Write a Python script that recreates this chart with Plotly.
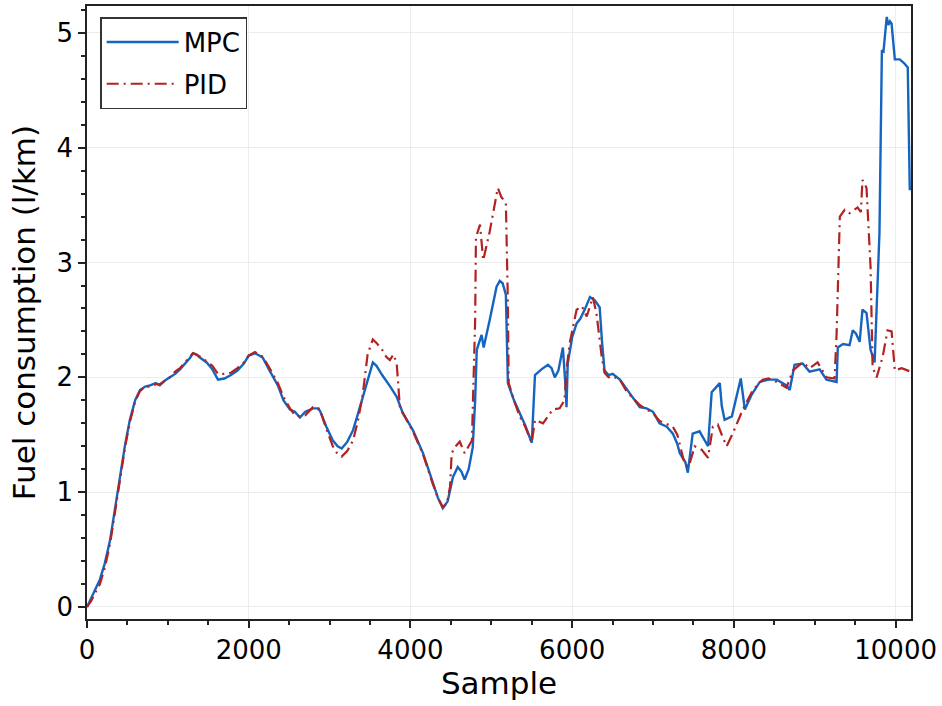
import plotly.graph_objects as go

# MPC trace (sample, l/km)
mpc_x = [0, 50, 100, 160, 220, 285, 345, 410, 470, 530, 595, 655, 720, 780, 850, 900, 960,
         1025, 1090, 1150, 1210, 1275, 1310, 1350, 1400, 1480, 1550, 1620, 1700, 1780, 1860,
         1940, 2000, 2077, 2130, 2175, 2250, 2360, 2430, 2510, 2570, 2633, 2700, 2794, 2850,
         2880, 2960, 3040, 3100, 3150, 3220, 3290, 3350, 3410, 3470, 3535, 3580, 3650, 3750,
         3830, 3905, 4030, 4155, 4277, 4340, 4400, 4460, 4525, 4585, 4630, 4670, 4720, 4770,
         4800, 4820, 4880, 4905, 4980, 5065, 5105, 5140, 5180, 5205, 5280, 5350, 5420, 5500,
         5540, 5620, 5700, 5745, 5785, 5830, 5885, 5915, 5930, 5945, 6000, 6055, 6100, 6155,
         6220, 6280, 6340, 6370, 6400, 6450, 6500, 6590, 6670, 6750, 6835, 6920, 7000, 7080,
         7170, 7245, 7300, 7330, 7400, 7430, 7490, 7575, 7640, 7680, 7725, 7825, 7850, 7885,
         7975, 8035, 8085, 8135, 8220, 8320, 8430, 8530, 8650, 8690, 8750, 8850, 8935, 9060,
         9145, 9270, 9285, 9350, 9430, 9470, 9510, 9555, 9590, 9640, 9690, 9740, 9800, 9830,
         9850, 9890, 9910, 9930, 9950, 9990, 10050, 10100, 10150, 10175]
mpc_y = [0, 0.07, 0.15, 0.24, 0.38, 0.58, 0.85, 1.15, 1.41, 1.63, 1.80, 1.89, 1.92, 1.93, 1.95,
         1.93, 1.97, 2.0, 2.03, 2.07, 2.12, 2.17, 2.21, 2.20, 2.17, 2.13, 2.07, 1.98, 1.99, 2.02,
         2.06, 2.12, 2.19, 2.21, 2.19, 2.17, 2.07, 1.93, 1.80, 1.72, 1.70, 1.65, 1.70, 1.73, 1.73,
         1.71, 1.57, 1.45, 1.40, 1.38, 1.44, 1.54, 1.68, 1.83, 1.98, 2.13, 2.10, 2.02, 1.92, 1.83,
         1.69, 1.54, 1.34, 1.08, 0.95, 0.86, 0.92, 1.13, 1.22, 1.18, 1.11, 1.20, 1.39, 1.80, 2.24,
         2.37, 2.26, 2.50, 2.79, 2.84, 2.82, 2.72, 1.95, 1.80, 1.69, 1.58, 1.43, 2.02, 2.07, 2.11,
         2.08, 2.00, 2.06, 2.26, 1.95, 1.74, 2.12, 2.35, 2.47, 2.51, 2.59, 2.70, 2.67, 2.61, 2.30,
         2.06, 2.02, 2.03, 1.98, 1.90, 1.83, 1.74, 1.73, 1.70, 1.60, 1.57, 1.51, 1.42, 1.34, 1.26,
         1.17, 1.51, 1.53, 1.45, 1.40, 1.87, 1.95, 1.75, 1.63, 1.66, 1.83, 1.99, 1.72, 1.85, 1.96,
         1.98, 1.98, 1.93, 1.89, 2.11, 2.12, 2.05, 2.07, 1.98, 1.96, 2.26, 2.29, 2.28, 2.41, 2.38,
         2.31, 2.59, 2.56, 2.24, 2.13, 3.26, 4.85, 4.84, 5.14, 5.07, 5.10, 5.08, 4.77, 4.77, 4.74,
         4.70, 3.63]

# PID trace
pid_x = [0, 50, 100, 160, 220, 285, 345, 410, 470, 530, 595, 655, 720, 780, 850, 900, 960,
         1025, 1090, 1150, 1210, 1275, 1310, 1350, 1400, 1480, 1550, 1620, 1700, 1780, 1860,
         1940, 2000, 2077, 2130, 2175, 2250, 2360, 2430, 2510, 2570, 2633, 2700, 2794, 2850,
         2880, 2960, 3040, 3100, 3150, 3220, 3290, 3350, 3410, 3470, 3535, 3580, 3650, 3700,
         3745, 3790, 3830, 3870, 3905, 4030, 4155, 4277, 4340, 4400, 4450, 4490, 4510, 4560,
         4610, 4670, 4720, 4760, 4800, 4810, 4860, 4900, 4980, 5040, 5080, 5125, 5180, 5205,
         5215, 5280, 5350, 5420, 5500, 5540, 5640, 5700, 5760, 5845, 5905, 5935, 5970, 6055,
         6120, 6180, 6255, 6300, 6365, 6400, 6450, 6500, 6590, 6670, 6750, 6835, 6920, 7000,
         7080, 7170, 7245, 7300, 7390, 7440, 7515, 7600, 7680, 7740, 7800, 7850, 7910, 7985,
         8110, 8235, 8355, 8430, 8530, 8650, 8730, 8850, 8935, 9035, 9145, 9245, 9270, 9310,
         9370, 9430, 9530, 9570, 9590, 9640, 9690, 9715, 9765, 9840, 9900, 9950, 9990, 10075,
         10150, 10185]
pid_y = [0, 0.05, 0.12, 0.20, 0.34, 0.55, 0.82, 1.12, 1.39, 1.61, 1.79, 1.88, 1.92, 1.92, 1.94,
         1.94, 1.97, 2.0, 2.05, 2.08, 2.13, 2.18, 2.21, 2.20, 2.18, 2.14, 2.10, 2.03, 2.03, 2.04,
         2.08, 2.13, 2.19, 2.22, 2.20, 2.18, 2.09, 1.95, 1.83, 1.73, 1.67, 1.66, 1.67, 1.74, 1.74,
         1.72, 1.55, 1.40, 1.33, 1.31, 1.36, 1.45, 1.62, 1.85, 2.20, 2.33, 2.30, 2.24, 2.18, 2.15,
         2.20, 2.12, 1.73, 1.69, 1.53, 1.33, 1.07, 0.95, 0.87, 0.90, 1.05, 1.34, 1.40, 1.44, 1.34,
         1.40, 1.45, 2.50, 3.22, 3.33, 3.02, 3.27, 3.50, 3.65, 3.57, 3.52, 2.65, 1.95, 1.80, 1.66,
         1.57, 1.43, 1.63, 1.60, 1.66, 1.72, 1.73, 1.80, 2.10, 2.30, 2.59, 2.62, 2.53, 2.70, 2.56,
         2.18, 2.04, 2.00, 2.01, 1.98, 1.88, 1.82, 1.76, 1.72, 1.69, 1.62, 1.59, 1.57, 1.50, 1.25,
         1.22, 1.40, 1.37, 1.30, 1.57, 1.59, 1.50, 1.40, 1.51, 1.72, 1.89, 1.98, 1.99, 1.96, 1.91,
         2.06, 2.13, 2.08, 2.13, 2.00, 1.99, 2.38, 3.40, 3.46, 3.43, 3.48, 3.44, 3.72, 3.65, 2.96,
         2.09, 2.00, 2.18, 2.41, 2.40, 2.06, 2.08, 2.06, 2.05]

font = "DejaVu Sans"

fig = go.Figure()
fig.add_trace(go.Scatter(x=mpc_x, y=mpc_y, mode="lines", name="MPC", legendgroup="a",
                         line=dict(color="#1565C0", width=2.4)))
fig.add_trace(go.Scatter(x=pid_x, y=pid_y, mode="lines", name="PID", legendgroup="b",
                         line=dict(color="#B22222", width=2.2, dash="12px,5px,2px,5px")))

axis_common = dict(
    showline=True, linecolor="#222", linewidth=1.5, mirror=True,
    ticks="outside", ticklen=7, tickwidth=1.5, tickcolor="#222",
    showgrid=True, gridcolor="#ececec", gridwidth=1, zeroline=False,
    tickfont=dict(family=font, size=26, color="black"),
    automargin=False, tickformat="d",
)
fig.update_xaxes(**axis_common, range=[0, 10190], dtick=2000,
                 minor=dict(ticks="outside", ticklen=4, dtick=500, tickcolor="#222", showgrid=False),
                 title=dict(text="Sample", font=dict(family=font, size=31, color="black"), standoff=6))
fig.update_yaxes(**axis_common, range=[-0.105, 5.235], dtick=1,
                 minor=dict(ticks="outside", ticklen=4, dtick=0.2, tickcolor="#222", showgrid=False),
                 title=dict(text="Fuel consumption (l/km)", font=dict(family=font, size=31, color="black"),
                            standoff=12))

fig.update_layout(
    width=942, height=706,
    margin=dict(l=87, r=31, t=6, b=87),
    paper_bgcolor="white", plot_bgcolor="white",
    showlegend=True,
    legend=dict(x=0.016, y=0.982, xanchor="left", yanchor="top",
                bgcolor="white", bordercolor="#333", borderwidth=1.5,
                font=dict(family=font, size=26, color="black"),
                itemwidth=72, tracegroupgap=5),
)

# drop the default body margin so the figure sits at the page corner
fig.write_html("out.html", config={"displayModeBar": False},
               post_script="document.body.style.margin='0';")
